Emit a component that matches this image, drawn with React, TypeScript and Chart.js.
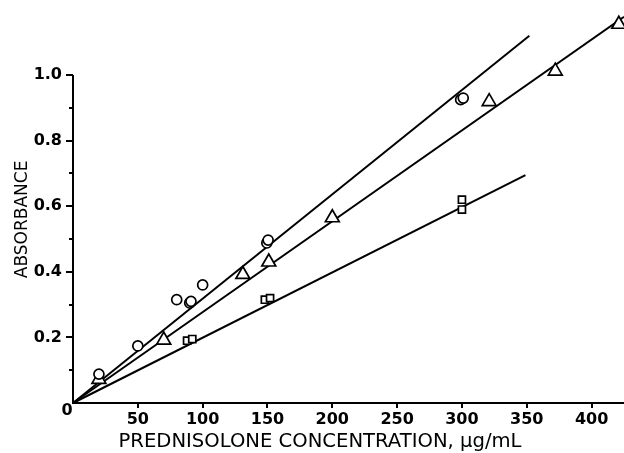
import { useEffect, useRef } from "react";
import { Chart, registerables } from "chart.js";

Chart.register(...registerables);

// ---- data ----
const circleX = [20, 50, 80, 90, 91, 100, 149.5, 150.5, 299, 301];
const circleY = [0.088, 0.174, 0.315, 0.305, 0.31, 0.36, 0.488, 0.497, 0.925, 0.93];

const triangleX = [20, 70, 131, 151, 200, 321, 372, 421];
const triangleY = [0.072, 0.192, 0.392, 0.43, 0.565, 0.919, 1.012, 1.155];

const squareX = [88, 92, 148, 152, 300, 300];
const squareY = [0.19, 0.195, 0.315, 0.32, 0.59, 0.62];

// fitted lines (end points)
const circleLineX = [0, 352];
const circleLineY = [0, 1.12];
const triangleLineX = [0, 425];
const triangleLineY = [0, 1.178];
const squareLineX = [0, 349];
const squareLineY = [0, 0.695];

const xTicks = [0, 50, 100, 150, 200, 250, 300, 350, 400];
const yTicks = [0, 0.1, 0.2, 0.3, 0.4, 0.5, 0.6, 0.7, 0.8, 0.9, 1.0];
const xMin = 0;
const xMax = 425;
const yMin = 0;
const yMax = 1.229;
const yAxisTop = 1.0;

const xTitle = "PREDNISOLONE CONCENTRATION, \u00b5g/mL";
const yTitle = "ABSORBANCE";
const originLabel = "0";

const pts = (xs: number[], ys: number[]) => xs.map((x, i) => ({ x, y: ys[i] }));

const TICK_FONT = { family: "'DejaVu Sans'", size: 16, weight: "bold" as const };

const noPad = (s: any) => {
  s.paddingLeft = 0;
  s.paddingRight = 0;
  s.paddingTop = 0;
  s.paddingBottom = 0;
};

export default function App() {
  const ref = useRef<HTMLCanvasElement | null>(null);

  useEffect(() => {
    if (!ref.current) return;

    const axisPlugin = {
      id: "axisDecor",
      afterDraw(chart: any) {
        const { ctx, scales, chartArea } = chart;
        const x = scales.x;
        const y = scales.y;
        ctx.save();
        ctx.strokeStyle = "#000";
        ctx.fillStyle = "#000";
        ctx.lineWidth = 2;
        const x0 = x.getPixelForValue(0);
        const y0 = y.getPixelForValue(0);
        // y axis line up to 1.0
        ctx.beginPath();
        ctx.moveTo(x0, y0 + 1);
        ctx.lineTo(x0, y.getPixelForValue(yAxisTop));
        ctx.stroke();
        // y ticks (major every 0.2, minor every 0.1)
        yTicks.forEach((v) => {
          if (v === 0) return;
          const major = Math.round(v * 10) % 2 === 0;
          const len = major ? 7 : 4;
          const py = Math.round(y.getPixelForValue(v));
          ctx.beginPath();
          ctx.moveTo(x0, py);
          ctx.lineTo(x0 - len, py);
          ctx.stroke();
        });
        // origin label
        ctx.font = "bold 16px 'DejaVu Sans'";
        ctx.textAlign = "center";
        ctx.textBaseline = "middle";
        ctx.fillText(originLabel, x0 - 6, y0 + 8);
        // axis titles
        ctx.font = "19.6px 'DejaVu Sans'";
        ctx.textAlign = "center";
        ctx.textBaseline = "middle";
        ctx.fillText(xTitle, chartArea.left + 247, chartArea.bottom + 39);
        ctx.save();
        ctx.translate(23, y.getPixelForValue(0.56));
        ctx.rotate(-Math.PI / 2);
        ctx.font = "17px 'DejaVu Sans'";
        ctx.fillText(yTitle, 0, 0);
        ctx.restore();
        ctx.restore();
      },
    };

    const marker = (style: string, radius: number) => ({
      showLine: false,
      pointStyle: style,
      pointRadius: radius,
      pointBorderWidth: 1.7,
      pointBorderColor: "#000",
      pointBackgroundColor: "#fff",
      borderColor: "#000",
      backgroundColor: "#fff",
      order: 0,
      clip: false as const,
    });
    const line = {
      showLine: true,
      pointRadius: 0,
      borderColor: "#000",
      borderWidth: 2,
      order: 1,
      clip: false as const,
    };

    const chart = new Chart(ref.current, {
      type: "scatter",
      data: {
        datasets: [
          { label: "circle", data: pts(circleX, circleY), ...marker("circle", 5) },
          { label: "triangle", data: pts(triangleX, triangleY), ...marker("triangle", 8) },
          { label: "square", data: pts(squareX, squareY), ...marker("rect", 5) },
          { label: "circle fit", data: pts(circleLineX, circleLineY), ...line },
          { label: "triangle fit", data: pts(triangleLineX, triangleLineY), ...line },
          { label: "square fit", data: pts(squareLineX, squareLineY), ...line },
        ] as any,
      },
      options: {
        animation: false,
        responsive: true,
        maintainAspectRatio: false,
        layout: { padding: 0, autoPadding: false },
        plugins: {
          legend: { display: false },
          tooltip: { enabled: false },
          title: { display: false },
        },
        scales: {
          x: {
            type: "linear",
            min: xMin,
            max: xMax,
            afterBuildTicks: (s: any) => {
              s.ticks = xTicks.map((v) => ({ value: v }));
            },
            afterFit: (s: any) => {
              s.height = 50;
              noPad(s);
            },
            grid: {
              display: true,
              drawOnChartArea: false,
              drawTicks: true,
              tickLength: 5,
              lineWidth: 2,
              color: (c: any) => (c.tick && c.tick.value === 0 ? "rgba(0,0,0,0)" : "#000"),
            },
            border: { display: true, color: "#000", width: 2 },
            ticks: {
              autoSkip: false,
              maxRotation: 0,
              padding: 2,
              color: "#000",
              font: TICK_FONT,
              callback: (v: any) => (Number(v) === 0 ? "" : String(v)),
            },
          },
          y: {
            type: "linear",
            min: yMin,
            max: yMax,
            afterBuildTicks: (s: any) => {
              s.ticks = yTicks.map((v) => ({ value: v }));
            },
            afterFit: (s: any) => {
              s.width = 73;
              noPad(s);
            },
            grid: { display: false, drawTicks: false },
            border: { display: false },
            ticks: {
              autoSkip: false,
              padding: 11,
              color: "#000",
              font: TICK_FONT,
              callback: (v: any) => {
                const n = Number(v);
                if (n <= 0) return "";
                return Math.round(n * 10) % 2 === 0 ? n.toFixed(1) : "";
              },
            },
          },
        },
      },
      plugins: [axisPlugin],
    });

    return () => chart.destroy();
  }, []);

  return (
    <div style={{ position: "absolute", left: 0, top: 0, width: 624, height: 453, background: "#fff" }}>
      <canvas ref={ref} />
    </div>
  );
}
